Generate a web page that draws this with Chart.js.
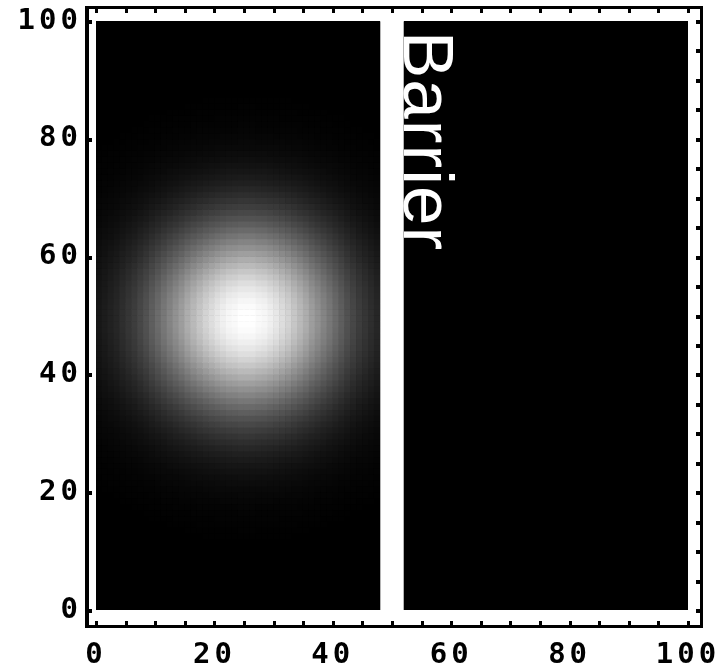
<!DOCTYPE html>
<html><head><meta charset="utf-8">
<script src="https://cdn.jsdelivr.net/npm/chart.js@4.4.1/dist/chart.umd.min.js"></script>
<style>html,body{margin:0;padding:0;background:#fff;}canvas{display:block;}</style>
</head><body>
<canvas id="c" width="720" height="668"></canvas>
<script>
// Brightness profile across columns x = 0..47 (left chamber)
const colProfile = [.09,.11,.13,.15,.18,.21,.24,.28,.32,.37,.42,.47,.52,.57,.62,.68,.73,.78,.83,.87,.91,.94,.97,.98,1,1,
  1,.98,.97,.94,.91,.87,.83,.78,.73,.68,.62,.57,.52,.47,.42,.37,.32,.28,.24,.21,.18,.15];
// Brightness profile across rows y = 0..99
const rowProfile = [0,0,0,0,0,0,0,0,0,0,0,0,
  .005,.006,.008,.011,.014,.018,.023,.03,.037,.047,.058,.071,.087,.105,.127,.151,.179,.21,.244,.282,.323,.368,.415,.465,.517,.57,.623,.677,.729,.779,.826,.869,.907,.939,.965,.984,.996,
  1,
  .996,.984,.965,.939,.907,.869,.826,.779,.729,.677,.623,.57,.517,.465,.415,.368,.323,.282,.244,.21,.179,.151,.127,.105,.087,.071,.058,.047,.037,.03,.023,.018,.014,.011,.008,.006,.005,
  0,0,0,0,0,0,0,0,0,0,0,0,0];
const barrierLeft = 48, barrierRight = 52;
const barrierLabel = 'Barrier';
const xTickValues = [0,20,40,60,80,100];
const xTickLabels = ['0','20','40','60','80','100'];
const yTickValues = [0,20,40,60,80,100];
const yTickLabels = ['0','20','40','60','80','100'];
const xMinorTicks = [0,5,10,15,20,25,30,35,40,45,50,55,60,65,70,75,80,85,90,95,100];
const yMajorTicks = [0,20,40,60,80,100];
const yMinorTicks = [0,5,10,15,20,25,30,35,40,45,50,55,60,65,70,75,80,85,90,95,100];

const cells = [];
for (let i = 0; i < colProfile.length; i++) {
  for (let j = 0; j < rowProfile.length; j++) {
    const v = colProfile[i] * rowProfile[j];
    if (v <= 0.004) continue;
    const g = Math.min(255, Math.round(255 * v));
    cells.push({x: i + 0.5, y: j + 0.5, c: 'rgb(' + g + ',' + g + ',' + g + ')'});
  }
}

const bgPlugin = {
  id: 'bg',
  beforeDraw(chart) { chart.ctx.letterSpacing = '4px'; },
  beforeDatasetsDraw(chart) {
    const a = chart.chartArea, ctx = chart.ctx;
    ctx.save(); ctx.fillStyle = '#000'; ctx.fillRect(a.left, a.top, a.right - a.left, a.bottom - a.top); ctx.restore();
  },
  afterDatasetsDraw(chart) {
    const ctx = chart.ctx, xs = chart.scales.x, ys = chart.scales.y;
    ctx.save();
    ctx.letterSpacing = '1px';
    ctx.fillStyle = '#fff';
    ctx.font = '71px "Liberation Sans", Arial, sans-serif';
    ctx.textBaseline = 'alphabetic';
    ctx.textAlign = 'left';
    ctx.translate(xs.getPixelForValue(barrierRight), ys.getPixelForValue(100) + 10);
    ctx.rotate(Math.PI / 2);
    ctx.fillText(barrierLabel, 0, 0);
    ctx.restore();
  },
  afterDraw(chart) {
    const ctx = chart.ctx, xs = chart.scales.x, ys = chart.scales.y;
    const L = 85, T = 6, R = 703, B = 628, w = 3;
    ctx.save();
    ctx.letterSpacing = '0px';
    ctx.fillStyle = '#000';
    ctx.fillRect(L, T, R - L, w);
    ctx.fillRect(L, B - w, R - L, w);
    ctx.fillRect(L, T, w + 1, B - T);
    ctx.fillRect(R - w, T, w, B - T);
    const tl = 4;
    xMinorTicks.forEach(v => {
      const px = Math.round(xs.getPixelForValue(v)) - 1;
      ctx.fillRect(px, B - w - tl, 3, tl);
      ctx.fillRect(px, T + w, 3, tl);
    });
    yMajorTicks.forEach(v => {
      const py = Math.round(ys.getPixelForValue(v)) - 1;
      ctx.fillRect(L + w + 1, py, tl - 1, 4);
    });
    yMinorTicks.forEach(v => {
      const py = Math.round(ys.getPixelForValue(v)) - 1;
      ctx.fillRect(R - w - tl, py, tl, 4);
    });
    ctx.restore();
  }
};

const tickFont = {family: '"DejaVu Sans Mono", monospace', size: 29, weight: 'bold'};
const cellRadius = ctx => {
  const s = ctx.chart.scales.x;
  return (Math.abs(s.getPixelForValue(1) - s.getPixelForValue(0)) + 0.6) * Math.SQRT1_2;
};

new Chart(document.getElementById('c'), {
  type: 'scatter',
  data: {
    datasets: [
      {
        type: 'line',
        data: [{x: barrierLeft, y: 100}, {x: barrierRight, y: 100}],
        fill: 'origin',
        backgroundColor: '#fff',
        borderColor: '#fff',
        borderWidth: 1,
        pointRadius: 0,
        tension: 0
      },
      {
        data: cells,
        pointStyle: 'rect',
        borderWidth: 0,
        pointBorderWidth: 0,
        backgroundColor: ctx => ctx.raw ? ctx.raw.c : '#000',
        pointRadius: cellRadius,
        pointHoverRadius: cellRadius
      }
    ]
  },
  options: {
    responsive: false,
    animation: false,
    events: [],
    layout: {padding: {left: 0, right: 32, top: 21, bottom: 0}},
    plugins: {legend: {display: false}, tooltip: {enabled: false}},
    scales: {
      x: {
        type: 'linear', min: 0, max: 100,
        grid: {display: false, drawTicks: false},
        border: {display: false},
        afterFit: s => { s.height = 58; s.paddingLeft = 0; s.paddingRight = 0; },
        afterBuildTicks: s => { s.ticks = xTickValues.map(v => ({value: v})); },
        ticks: {
          font: tickFont, color: '#000', padding: 28, maxRotation: 0, autoSkip: false,
          callback: v => { const k = xTickValues.indexOf(v); return k >= 0 ? xTickLabels[k] : ''; }
        }
      },
      y: {
        type: 'linear', min: 0, max: 100,
        grid: {display: false, drawTicks: false},
        border: {display: false},
        afterFit: s => { s.width = 96; s.paddingTop = 0; s.paddingBottom = 0; },
        afterBuildTicks: s => { s.ticks = yTickValues.map(v => ({value: v})); },
        ticks: {
          font: tickFont, color: '#000', padding: 14, autoSkip: false,
          callback: v => { const k = yTickValues.indexOf(v); return k >= 0 ? yTickLabels[k] : ''; }
        }
      }
    }
  },
  plugins: [bgPlugin]
});
</script>
</body></html>
